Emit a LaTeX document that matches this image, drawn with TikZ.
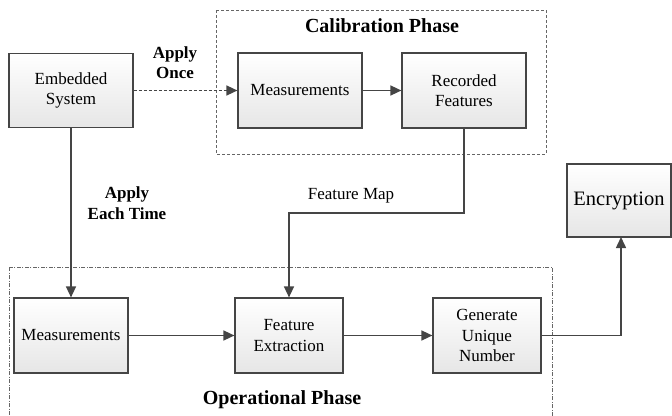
\documentclass[tikz,border=0pt]{standalone}
\usepackage{fontspec}
\setmainfont{Liberation Serif}
\usetikzlibrary{arrows.meta,positioning}
\definecolor{edge}{HTML}{454545}
\definecolor{boxbot}{HTML}{E6E6E6}
\tikzset{
  blk/.style={draw=edge,line width=1.2pt,top color=white,bottom color=boxbot,
    align=center,inner sep=0pt,font=\fontsize{17}{20.5}\selectfont},
  conn/.style={draw=edge,line width=1.5pt,-{Triangle[length=11pt,width=10pt]}},
  lbl/.style={align=center,font=\fontsize{17}{20.5}\selectfont},
  blbl/.style={align=center,font=\bfseries\fontsize{17}{20.5}\selectfont},
  ttl/.style={font=\bfseries\fontsize{20}{24}\selectfont},
}
\begin{document}
\begin{tikzpicture}[x=1pt,y=-1pt]
\useasboundingbox (0,0) rectangle (672,415);
% phase frames
\draw[gray!80!black,line width=0.7pt,dash pattern=on 3pt off 2pt] (216,10) rectangle (546,154);
\draw[gray!80!black,line width=0.7pt,dash pattern=on 4pt off 1.5pt on 1pt off 1.5pt] (9,267) rectangle (552,430);
\node[ttl] (caltitle) at (382,26) {Calibration Phase};
\node[ttl] (optitle) at (282,400) {Operational Phase};
% boxes
\node[blk,minimum width=124pt,minimum height=74pt] (es) at (71,90.5) {Embedded\\System};
\node[blk,minimum width=124pt,minimum height=75pt] (cm) at (300,90.5) {Measurements};
\node[blk,minimum width=124pt,minimum height=75pt] (rf) at (464,90.5) {Recorded\\Features};
\node[blk,minimum width=114pt,minimum height=75pt] (om) at (71,335.5) {Measurements};
\node[blk,minimum width=108pt,minimum height=75pt] (fe) at (289,335.5) {Feature\\Extraction};
\node[blk,minimum width=108pt,minimum height=75pt] (gu) at (487,335.5) {Generate\\Unique\\Number};
\node[blk,minimum width=104pt,minimum height=73pt,font=\fontsize{20.5}{24}\selectfont] (enc) at (619,200.5) {Encryption};
% labels
\node[blbl] (once) at (175,62.5) {Apply\\Once};
\node[blbl] (each) at (127,203) {Apply\\Each Time};
\node[lbl] (fmap) at (351,196) {Feature Map};
% connectors
\draw[conn,dash pattern=on 3pt off 2pt] (es.east) -- (cm.west);
\draw[conn] (cm.east) -- (rf.west);
\draw[conn] (es.south) -- (om.north);
\draw[conn] (om.east) -- (fe.west);
\draw[conn] (fe.east) -- (gu.west);
\coordinate (fmc) at (464,213);
\draw[conn] (rf.south) -- (fmc) -| (fe.north);
\coordinate (encin) at (621,237);
\draw[conn] (gu.east) -| (encin);
\end{tikzpicture}
\end{document}
